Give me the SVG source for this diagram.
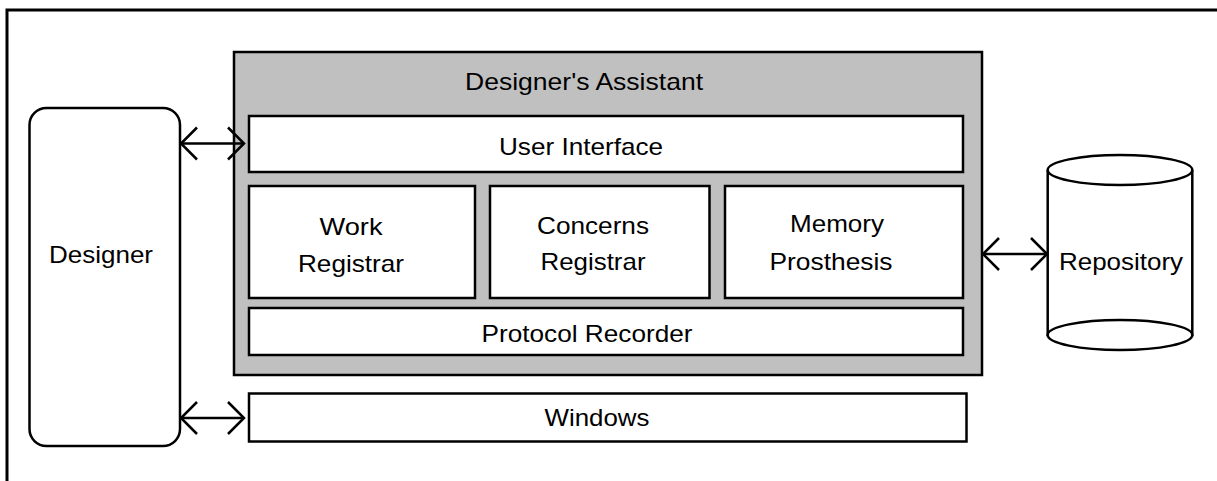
<svg xmlns="http://www.w3.org/2000/svg" width="1217" height="481" viewBox="0 0 1217 481">
  <style>
    .box { fill: #ffffff; stroke: #000000; stroke-width: 2.5; }
    .gray { fill: #c0c0c0; stroke: #000000; stroke-width: 2.5; }
    .frame { fill: #ffffff; stroke: #000000; stroke-width: 3; }
    .lbl { font-family: "Liberation Sans", Arial, sans-serif; font-size: 24px; fill: #000000; text-anchor: middle; }
    .conn { fill: none; stroke: #000000; stroke-width: 2.5; }
  </style>
  <defs>
    <marker id="chev" viewBox="0 0 20 36" refX="17" refY="18" markerWidth="20" markerHeight="36" markerUnits="userSpaceOnUse" orient="auto-start-reverse">
      <path d="M1,2 L17,18 L1,34" fill="none" stroke="#000000" stroke-width="2.5"/>
    </marker>
  </defs>

  <rect class="frame" x="7" y="10" width="1230" height="490"/>

  <g id="designer">
    <rect class="box" x="29.5" y="108" width="150.5" height="338" rx="17" ry="17"/>
    <text class="lbl" x="101" y="263" textLength="104" lengthAdjust="spacingAndGlyphs">Designer</text>
  </g>

  <g id="designers-assistant">
    <rect class="gray" x="234" y="52" width="748" height="323"/>
    <text class="lbl" x="584" y="90" textLength="238" lengthAdjust="spacingAndGlyphs">Designer's Assistant</text>
  </g>

  <g id="user-interface">
    <rect class="box" x="249" y="116" width="714" height="56"/>
    <text class="lbl" x="581" y="155" textLength="164" lengthAdjust="spacingAndGlyphs">User Interface</text>
  </g>

  <g id="work-registrar">
    <rect class="box" x="249" y="186" width="226" height="112"/>
    <text class="lbl" x="351" y="235" textLength="63" lengthAdjust="spacingAndGlyphs">Work</text>
    <text class="lbl" x="351" y="271.5" textLength="106" lengthAdjust="spacingAndGlyphs">Registrar</text>
  </g>

  <g id="concerns-registrar">
    <rect class="box" x="490" y="186" width="219.5" height="112"/>
    <text class="lbl" x="593" y="234" textLength="112" lengthAdjust="spacingAndGlyphs">Concerns</text>
    <text class="lbl" x="593" y="270" textLength="105" lengthAdjust="spacingAndGlyphs">Registrar</text>
  </g>

  <g id="memory-prosthesis">
    <rect class="box" x="725" y="186" width="238" height="112"/>
    <text class="lbl" x="837" y="232" textLength="94" lengthAdjust="spacingAndGlyphs">Memory</text>
    <text class="lbl" x="831" y="270" textLength="123" lengthAdjust="spacingAndGlyphs">Prosthesis</text>
  </g>

  <g id="protocol-recorder">
    <rect class="box" x="249" y="308" width="714" height="47"/>
    <text class="lbl" x="587" y="341.5" textLength="211" lengthAdjust="spacingAndGlyphs">Protocol Recorder</text>
  </g>

  <g id="windows">
    <rect class="box" x="249" y="393.5" width="717.5" height="48"/>
    <text class="lbl" x="597" y="426" textLength="105" lengthAdjust="spacingAndGlyphs">Windows</text>
  </g>

  <g id="repository">
    <path class="box" d="M1047.7,170 L1047.7,335 L1192.3,335 L1192.3,170"/>
    <ellipse class="box" cx="1120" cy="170" rx="72.3" ry="15"/>
    <ellipse class="box" cx="1120" cy="335" rx="72.3" ry="15"/>
    <text class="lbl" x="1121" y="270" textLength="124" lengthAdjust="spacingAndGlyphs">Repository</text>
  </g>

  <g id="connectors">
    <line class="conn" x1="181" y1="143.5" x2="244" y2="143.5" marker-start="url(#chev)" marker-end="url(#chev)"/>
    <line class="conn" x1="181" y1="418" x2="244" y2="418" marker-start="url(#chev)" marker-end="url(#chev)"/>
    <line class="conn" x1="983" y1="254" x2="1047" y2="254" marker-start="url(#chev)" marker-end="url(#chev)"/>
  </g>
</svg>
